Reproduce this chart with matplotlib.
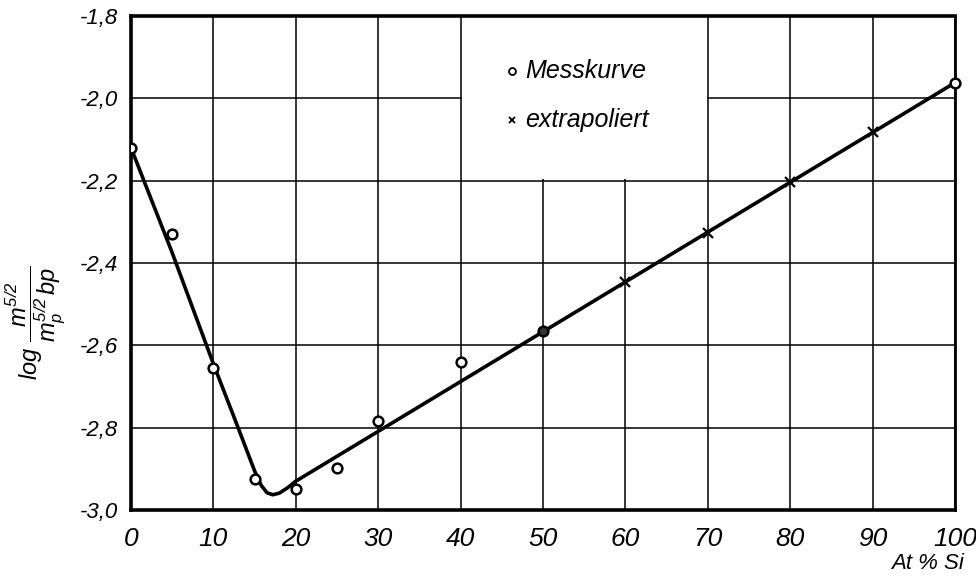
import matplotlib
matplotlib.use("Agg")
import matplotlib.pyplot as plt
from matplotlib.patches import Rectangle

# measured points (Messkurve) and extrapolated points
mess_x = [0, 5, 10, 15, 20, 25, 30, 40, 50, 100]
mess_y = [-2.12, -2.33, -2.655, -2.925, -2.948, -2.897, -2.785, -2.64, -2.566, -1.962]
extra_x = [60, 70, 80, 90]
extra_y = [-2.445, -2.326, -2.204, -2.083]

# hand-drawn curve
curve_x = [0, 5, 10, 13, 15, 15.8, 16.5, 17.2, 18.0, 19.0, 20, 100]
curve_y = [-2.12, -2.375, -2.645, -2.80, -2.905, -2.940, -2.958, -2.963, -2.959, -2.946, -2.930, -1.962]

xticks = [0, 10, 20, 30, 40, 50, 60, 70, 80, 90, 100]
yticks = [-3.0, -2.8, -2.6, -2.4, -2.2, -2.0, -1.8]
ytick_labels = ["-3,0", "-2,8", "-2,6", "-2,4", "-2,2", "-2,0", "-1,8"]

plt.rcParams['font.family'] = ['Liberation Sans', 'DejaVu Sans']
plt.rcParams['mathtext.fontset'] = 'custom'
plt.rcParams['mathtext.it'] = 'Liberation Sans:italic'
plt.rcParams['mathtext.rm'] = 'Liberation Sans:italic'

fig = plt.figure(figsize=(9.76, 5.77), dpi=100)
ax = fig.add_axes([0.1342, 0.1161, 0.8443, 0.8562])

ax.set_xlim(0, 100)
ax.set_ylim(-3.0, -1.8)
ax.set_xticks(xticks)
ax.set_xticklabels([str(v) for v in xticks], fontsize=19, style='italic')
ax.set_yticks(yticks)
ax.set_yticklabels(ytick_labels, fontsize=16, style='italic')
ax.tick_params(axis='x', length=0, pad=12)
ax.tick_params(axis='y', length=0, pad=9)

ax.set_axisbelow(True)
ax.grid(True, color='black', linewidth=1.1)
for s in ['left', 'bottom', 'top']:
    ax.spines[s].set_linewidth(2.6)
ax.spines['right'].set_linewidth(2.0)

# white field for the key, covers the grid
ax.add_patch(Rectangle((40.15, -2.195), 29.7, 0.395, facecolor='white',
                       edgecolor='none', zorder=1))

ax.plot(curve_x, curve_y, color='black', linewidth=2.6, zorder=3)
ax.plot(mess_x[:-2], mess_y[:-2], linestyle='none', marker='o', markersize=7,
        markerfacecolor='white', markeredgecolor='black', markeredgewidth=1.8, zorder=4)
# point at 50 is printed dark in the original
ax.plot(mess_x[-2:-1], mess_y[-2:-1], linestyle='none', marker='o', markersize=7,
        markerfacecolor='#333333', markeredgecolor='black', markeredgewidth=1.8, zorder=4)
ax.plot(mess_x[-1:], mess_y[-1:], linestyle='none', marker='o', markersize=7,
        markerfacecolor='white', markeredgecolor='black', markeredgewidth=1.8, zorder=4,
        clip_on=False)
ax.plot(extra_x, extra_y, linestyle='none', marker='x', markersize=7,
        color='black', markeredgewidth=1.6, zorder=4)

# key
ax.plot([46.2], [-1.934], linestyle='none', marker='o', markersize=5,
        markerfacecolor='white', markeredgecolor='black', markeredgewidth=1.3)
ax.text(47.8, -1.934, "Messkurve", fontsize=18, style='italic', va='center', ha='left')
ax.plot([46.2], [-2.052], linestyle='none', marker='x', markersize=5,
        color='black', markeredgewidth=1.3)
ax.text(47.8, -2.052, "extrapoliert", fontsize=18, style='italic', va='center', ha='left')

fig.text(0.95, 0.024, "At % Si", fontsize=16, style='italic', ha='center', va='center')
fig.text(0.036, 0.44, r'$\log\,\dfrac{m^{5/2}}{m_p^{5/2}\,bp}$', fontsize=17,
         rotation=90, ha='center', va='center')

fig.savefig("out.png", dpi=100)
